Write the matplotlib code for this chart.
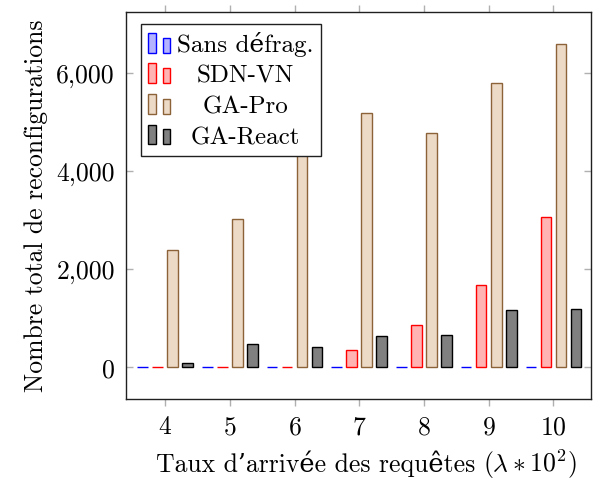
import matplotlib
matplotlib.use('Agg')
import matplotlib.pyplot as plt
from matplotlib.patches import Rectangle
from matplotlib.legend_handler import HandlerBase
from matplotlib.ticker import FuncFormatter, FixedLocator
from matplotlib.offsetbox import TextArea, HPacker, AnchoredOffsetbox

plt.rcParams['font.family'] = ['cmr10', 'DejaVu Serif']
plt.rcParams['mathtext.fontset'] = 'cm'
plt.rcParams['axes.formatter.use_mathtext'] = True

# ---- data ----
rates = [4, 5, 6, 7, 8, 9, 10]
series_names = ['Sans défrag.', 'SDN-VN', 'GA-Pro', 'GA-React']
sans_defrag = [0, 0, 0, 0, 0, 0, 0]
sdn_vn = [0, 0, 0, 350, 855, 1660, 3065]
ga_pro = [2390, 3005, 4500, 5170, 4760, 5800, 6590]
ga_react = [70, 457, 398, 633, 645, 1152, 1178]
yticks = [0, 2000, 4000, 6000]
xlabel_text = 'Taux d’arrivée des requêtes'
xlabel_math = '$(\\lambda * 10^2)$'
ylabel_text = 'Nombre total de reconfigurations'

series_values = [sans_defrag, sdn_vn, ga_pro, ga_react]
face_colors = ['#b3b3ff', '#ffb3b3', '#ecd9c6', '#808080']
edge_colors = ['#0000ff', '#ff0000', '#8c6239', '#000000']

FS = 18.5
LFS = 18

fig = plt.figure(figsize=(5.93, 4.81), dpi=100)
ax = fig.add_axes([126 / 593, (481 - 400) / 481, 465 / 593, 387.5 / 481])

step = 0.232
width = 0.163
for i, vals in enumerate(series_values):
    off = (i - 1.5) * step
    ax.bar([r + off for r in rates], vals, width=width,
           color=face_colors[i], edgecolor=edge_colors[i], linewidth=1.0,
           zorder=3, label=series_names[i])

ax.set_xlim(3.397, 10.58)
ax.set_ylim(-660, 7250)
ax.xaxis.set_major_locator(FixedLocator(rates))
ax.yaxis.set_major_locator(FixedLocator(yticks))
ax.yaxis.set_major_formatter(FuncFormatter(lambda v, p: f'{int(v):,}'))

ax.tick_params(axis='x', direction='out', top=True, bottom=True, length=5,
               width=1, color='#b0b0b0', labelsize=FS, pad=6)
ax.tick_params(axis='y', direction='in', left=True, right=True, length=5,
               width=1, color='#b0b0b0', labelsize=FS, pad=8)
for s in ax.spines.values():
    s.set_linewidth(1.0)
    s.set_color('#202020')

ax.set_ylabel(ylabel_text, fontsize=FS, labelpad=6)

# x label: plain text (with font fallback for accents) + math part
xl = HPacker(children=[TextArea(xlabel_text, textprops=dict(fontsize=FS)),
                       TextArea(xlabel_math, textprops=dict(fontsize=FS))],
             align='baseline', pad=0, sep=5)
xlab_box = AnchoredOffsetbox(loc='upper center', child=xl, pad=0, borderpad=0,
                             frameon=False, bbox_to_anchor=(0.517, -0.122),
                             bbox_transform=ax.transAxes)
ax.add_artist(xlab_box)


class DoubleBarHandler(HandlerBase):
    def create_artists(self, legend, orig_handle, xdescent, ydescent,
                       width, height, fontsize, trans):
        fc = orig_handle.get_facecolor()
        ec = orig_handle.get_edgecolor()
        bw = width * 0.34
        x0 = -xdescent
        y0 = -ydescent
        r1 = Rectangle((x0, y0), bw, height, facecolor=fc, edgecolor=ec,
                       linewidth=1.0, transform=trans)
        r2 = Rectangle((x0 + width - bw, y0), bw, height * 0.76, facecolor=fc,
                       edgecolor=ec, linewidth=1.0, transform=trans)
        return [r1, r2]


proxies = [Rectangle((0, 0), 1, 1, facecolor=face_colors[i], edgecolor=edge_colors[i])
           for i in range(4)]
leg = ax.legend(proxies, series_names, loc='upper left',
                bbox_to_anchor=(0.032, 0.968), borderaxespad=0,
                handler_map={Rectangle: DoubleBarHandler()},
                handlelength=0.88, handleheight=0.84, handletextpad=0.28,
                labelspacing=0.28, borderpad=0.3, fontsize=LFS,
                fancybox=False, framealpha=1, edgecolor='#202020')
leg.get_frame().set_linewidth(1.0)

fig.canvas.draw()
renderer = fig.canvas.get_renderer()
texts = leg.get_texts()
widths = [t.get_window_extent(renderer).width for t in texts]
mw = max(widths)
for t, w in zip(texts, widths):
    t.set_x((mw - w) / 2)

fig.savefig('out.png', dpi=100)
